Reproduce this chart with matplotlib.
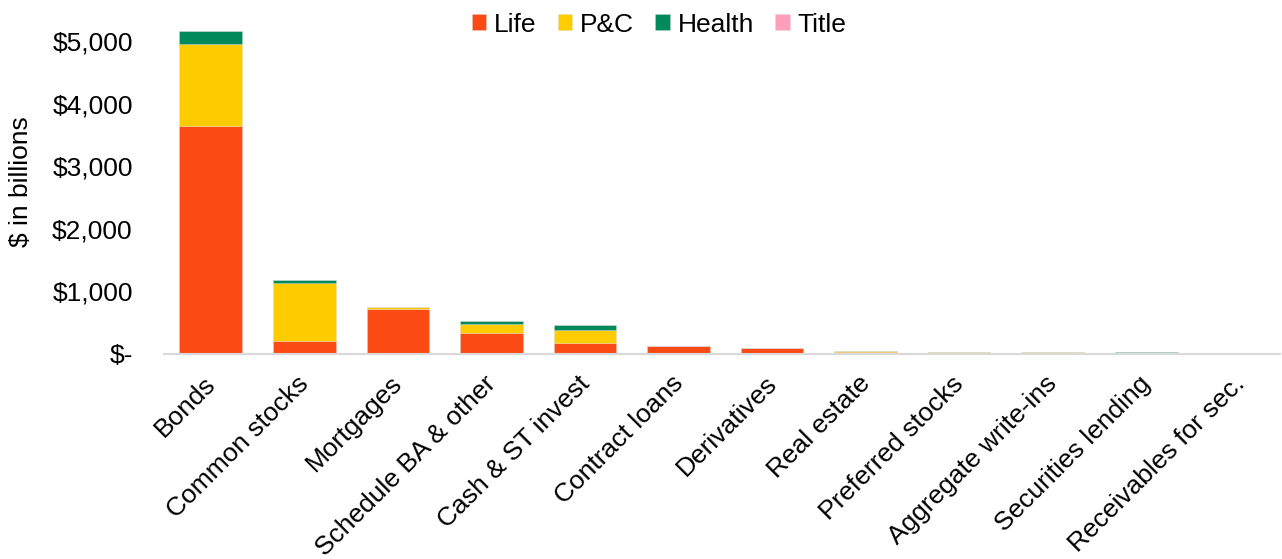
import matplotlib
matplotlib.use("Agg")
import matplotlib.pyplot as plt
import matplotlib.transforms as mtransforms
import numpy as np
from matplotlib.ticker import FuncFormatter

plt.rcParams['font.family'] = ['Liberation Sans', 'DejaVu Sans']

categories = ["Bonds", "Common stocks", "Mortgages", "Schedule BA & other",
              "Cash & ST invest", "Contract loans", "Derivatives", "Real estate",
              "Preferred stocks", "Aggregate write-ins", "Securities lending",
              "Receivables for sec."]

# $ billions by industry
life = [3648, 202, 715, 325, 165, 123, 91, 25, 14, 14, 10, 6]
pc = [1310, 920, 30, 155, 208, 1, 3, 15, 16, 5, 6, 4]
health = [204, 48, 4, 37, 80, 0, 0, 3, 1, 9, 3, 1]
title = [6, 3, 0, 2, 4, 0, 0, 1, 0, 0, 1, 0]

series = [("Life", life, "#FC4A14"), ("P&C", pc, "#FFCC00"),
          ("Health", health, "#008A5C"), ("Title", title, "#FF9EBB")]

fig = plt.figure(figsize=(12.82, 5.59), dpi=100)
ax = fig.add_axes([164/1282, 1 - 353.5/559, (1280 - 164)/1282, (353.5 - 10)/559])

x = np.arange(len(categories))
bottom = np.zeros(len(categories))
for name, vals, col in series:
    vals = np.array(vals, dtype=float)
    ax.bar(x, vals, 0.67, bottom=bottom, color=col, label=name,
           edgecolor=(0.85, 0.85, 0.85, 0.6), linewidth=0.4)
    bottom += vals

ax.set_xlim(-0.5, 11.43)
ax.set_ylim(0, 5500)
ax.set_yticks([0, 1000, 2000, 3000, 4000, 5000])
ax.yaxis.set_major_formatter(FuncFormatter(
    lambda v, p: "$-" if v == 0 else "${:,.0f}".format(v)))

for s in ["top", "right", "left"]:
    ax.spines[s].set_visible(False)
ax.spines["bottom"].set_color("#d9d9d9")
ax.spines["bottom"].set_linewidth(1.5)
ax.tick_params(axis="y", length=0, labelsize=19, pad=22.5)
ax.tick_params(axis="x", length=0, labelsize=19, pad=19)

ax.set_xticks(x)
ax.set_xticklabels(categories, rotation=45, ha="right", va="center",
                   rotation_mode="anchor")
# nudge the rotated labels a little to the right of the bar centres
shift = mtransforms.ScaledTranslation(0.01, 0, fig.dpi_scale_trans)
for lab in ax.get_xticklabels():
    lab.set_transform(lab.get_transform() + shift)

ax.set_ylabel("$ in billions", fontsize=19)
ax.yaxis.set_label_coords(33/1282, 0.5, transform=mtransforms.blended_transform_factory(
    fig.transFigure, ax.transAxes))

ax.legend(loc="center", bbox_to_anchor=(0.4435, 0.957), ncol=4,
          frameon=False, fontsize=19, handlelength=0.55, handleheight=0.55,
          handletextpad=0.3, columnspacing=0.8, borderpad=0)

fig.savefig("out.png", dpi=100)
